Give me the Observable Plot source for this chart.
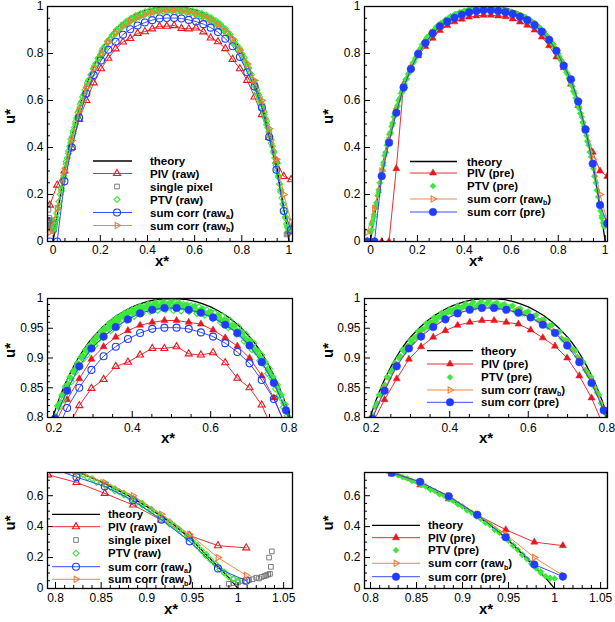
<!DOCTYPE html>
<html><head><meta charset="utf-8">
<script src="https://cdn.jsdelivr.net/npm/d3@7"></script>
<script src="https://cdn.jsdelivr.net/npm/@observablehq/plot@0.6"></script>
<style>
html,body{margin:0;padding:0;background:#fff}
#fig{position:relative;width:615px;height:622px;overflow:hidden;font-family:"Liberation Sans",Arial,Helvetica,sans-serif}
#fig svg{position:absolute}
</style></head><body><div id="fig"></div>
<script>
// ---------------- data ----------------
const xGrid = [-0.014,0.017,0.048,0.079,0.110,0.141,0.172,0.203,0.234,0.265,0.296,0.327,0.358,0.389,0.420,0.451,0.482,0.513,0.544,0.575,0.606,0.637,0.668,0.699,0.730,0.761,0.792,0.823,0.854,0.885,0.916,0.947,0.978,1.009];
const pivRaw  = [0.155,0.24,0.30,0.40,0.52,0.60,0.675,0.735,0.78,0.82,0.849,0.864,0.886,0.893,0.905,0.916,0.916,0.919,0.907,0.905,0.909,0.892,0.866,0.850,0.821,0.775,0.735,0.686,0.615,0.54,0.443,0.342,0.277,0.263];
const pivPre  = [0,0,0,0,0.31,0.67,0.74,0.79,0.83,0.865,0.898,0.919,0.935,0.946,0.955,0.96,0.963,0.963,0.96,0.957,0.947,0.934,0.92,0.90,0.87,0.833,0.785,0.74,0.669,0.579,0.475,0.38,0.30,0.277];
const sumRawA = [0,0,0.256,0.40,0.527,0.63,0.708,0.77,0.816,0.85,0.88,0.903,0.919,0.932,0.942,0.949,0.951,0.951,0.949,0.943,0.936,0.925,0.910,0.891,0.863,0.831,0.785,0.72,0.66,0.57,0.445,0.305,0.13,0.05];
const sumRawB = [0.04,0.14,0.30,0.43,0.555,0.655,0.735,0.80,0.848,0.888,0.918,0.938,0.954,0.966,0.975,0.981,0.984,0.984,0.981,0.977,0.969,0.958,0.944,0.924,0.897,0.862,0.815,0.755,0.685,0.60,0.48,0.35,0.20,0.085];
const sumPre  = [0,0,0.278,0.42,0.548,0.655,0.734,0.798,0.845,0.886,0.916,0.936,0.952,0.965,0.975,0.981,0.984,0.984,0.981,0.976,0.968,0.956,0.942,0.921,0.893,0.858,0.812,0.748,0.69,0.596,0.477,0.331,0.155,0.077];

const theoryX = [0,0.01,0.02,0.03,0.04,0.05,0.06,0.07,0.08,0.09,0.10,0.11,0.12,0.13,0.14,0.15,0.16,0.17,0.18,0.19,0.20,0.21,0.22,0.23,0.24,0.25,0.26,0.27,0.28,0.29,0.30,0.32,0.34,0.36,0.38,0.40,0.42,0.44,0.46,0.48,0.50,0.52,0.54,0.56,0.58,0.60,0.62,0.64,0.66,0.68,0.70,0.71,0.72,0.73,0.74,0.75,0.76,0.77,0.78,0.79,0.80,0.81,0.82,0.83,0.84,0.85,0.86,0.87,0.88,0.89,0.90,0.91,0.92,0.93,0.94,0.95,0.96,0.97,0.98,0.99,1.00];
const theoryU = [0,0.07,0.13,0.19,0.25,0.31,0.36,0.41,0.45,0.49,0.53,0.565,0.60,0.63,0.66,0.69,0.715,0.74,0.765,0.785,0.805,0.825,0.842,0.858,0.872,0.885,0.897,0.908,0.918,0.927,0.935,0.949,0.961,0.971,0.979,0.986,0.991,0.995,0.998,0.9995,1.0,0.9995,0.998,0.995,0.991,0.986,0.979,0.971,0.961,0.949,0.935,0.927,0.918,0.908,0.897,0.885,0.872,0.858,0.842,0.825,0.805,0.785,0.765,0.74,0.715,0.69,0.66,0.63,0.60,0.565,0.53,0.49,0.45,0.41,0.36,0.31,0.25,0.19,0.13,0.07,0];

const ptvX = [0,0.005,0.01,0.015,0.02,0.025,0.03,0.035,0.04,0.045,0.05,0.055,0.06,0.065,0.07,0.075,0.08,0.085,0.09,0.095,0.10,0.105,0.11,0.115,0.12,0.125,0.13,0.135,0.14,0.145,0.15,
 0.16,0.17,0.18,0.19,0.20,0.21,0.22,0.23,0.24,0.25,0.26,0.27,0.28,0.29,0.30,0.31,0.32,0.33,0.34,0.35,0.36,0.37,0.38,0.39,0.40,0.41,0.42,0.43,0.44,0.45,0.46,0.47,0.48,0.49,0.50,
 0.51,0.52,0.53,0.54,0.55,0.56,0.57,0.58,0.59,0.60,0.61,0.62,0.63,0.64,0.65,0.66,0.67,0.68,0.69,0.70,0.71,0.72,0.73,0.74,0.75,0.76,0.77,0.78,0.79,0.80,0.81,0.82,0.83,0.84,
 0.85,0.855,0.86,0.865,0.87,0.875,0.88,0.885,0.89,0.895,0.90,0.905,0.91,0.915,0.92,0.925,0.93,0.935,0.94,0.945,0.95,0.955,0.96,0.965,0.97,0.975,0.98,0.985,0.99,0.995,1.0];
const ptvRawU = [0.05,0.07,0.09,0.12,0.14,0.17,0.20,0.225,0.255,0.28,0.31,0.34,0.355,0.385,0.405,0.435,0.445,0.47,0.485,0.51,0.525,0.55,0.56,0.585,0.595,0.615,0.625,0.645,0.655,0.675,0.685,
 0.71,0.735,0.755,0.78,0.795,0.82,0.832,0.852,0.862,0.878,0.888,0.902,0.908,0.92,0.925,0.936,0.94,0.95,0.952,0.962,0.963,0.97,0.97,0.978,0.976,0.983,0.98,0.987,0.984,0.99,0.985,0.992,0.986,0.99,0.988,
 0.993,0.985,0.99,0.984,0.988,0.982,0.986,0.978,0.981,0.975,0.976,0.969,0.971,0.962,0.963,0.952,0.953,0.94,0.94,0.927,0.925,0.91,0.905,0.888,0.882,0.862,0.855,0.832,0.822,0.798,0.782,0.758,0.738,0.71,
 0.685,0.675,0.655,0.645,0.625,0.615,0.595,0.585,0.56,0.55,0.525,0.512,0.485,0.47,0.445,0.432,0.405,0.385,0.355,0.335,0.305,0.28,0.245,0.22,0.185,0.16,0.125,0.10,0.075,0.06,0.05];
const ptvPreU = [0.04,0.075,0.085,0.115,0.145,0.165,0.195,0.22,0.25,0.285,0.305,0.335,0.365,0.38,0.41,0.43,0.455,0.465,0.49,0.505,0.53,0.545,0.565,0.58,0.60,0.61,0.63,0.64,0.66,0.67,0.69,
 0.712,0.738,0.76,0.778,0.80,0.818,0.838,0.85,0.868,0.876,0.892,0.9,0.914,0.918,0.93,0.934,0.945,0.948,0.958,0.96,0.968,0.969,0.976,0.976,0.982,0.981,0.988,0.985,0.991,0.987,0.994,0.988,0.995,0.989,0.996,
 0.99,0.993,0.988,0.99,0.985,0.988,0.98,0.983,0.975,0.978,0.968,0.972,0.962,0.964,0.952,0.955,0.941,0.944,0.93,0.93,0.915,0.912,0.898,0.893,0.876,0.868,0.85,0.838,0.815,0.80,0.775,0.76,0.733,0.712,
 0.69,0.672,0.66,0.64,0.63,0.612,0.60,0.58,0.565,0.545,0.53,0.508,0.49,0.468,0.45,0.428,0.41,0.382,0.36,0.33,0.31,0.278,0.25,0.218,0.19,0.158,0.13,0.10,0.08,0.065,0.065];

// second PTV sample set (between the first set)
const ptvX2 = [0.005,0.015,0.025,0.035,0.045,0.055,0.065,0.075,0.085,0.095,0.105,0.115,0.125,0.135,0.145,0.155,0.165,0.175,0.185,0.195,
 0.205,0.215,0.225,0.235,0.245,0.255,0.265,0.275,0.285,0.295,0.305,0.315,0.325,0.335,0.345,0.355,0.365,0.375,0.385,0.395,
 0.405,0.415,0.425,0.435,0.445,0.455,0.465,0.475,0.485,0.495,0.505,0.515,0.525,0.535,0.545,0.555,0.565,0.575,0.585,0.595,
 0.605,0.615,0.625,0.635,0.645,0.655,0.665,0.675,0.685,0.695,0.705,0.715,0.725,0.735,0.745,0.755,0.765,0.775,0.785,0.795,
 0.805,0.815,0.825,0.835,0.845,0.855,0.865,0.875,0.885,0.895,0.905,0.915,0.925,0.935,0.945,0.955,0.965,0.975,0.985,0.995];
const ptvRawU2 = [0.06,0.10,0.15,0.215,0.27,0.33,0.375,0.42,0.46,0.50,0.535,0.572,0.60,0.632,0.66,0.69,0.712,0.74,0.758,0.78,
 0.797,0.818,0.83,0.85,0.86,0.876,0.884,0.898,0.905,0.916,0.921,0.932,0.935,0.945,0.946,0.955,0.955,0.964,0.963,0.972,
 0.97,0.978,0.975,0.983,0.978,0.985,0.98,0.987,0.981,0.986,0.98,0.987,0.979,0.985,0.978,0.984,0.975,0.98,0.972,0.975,
 0.966,0.969,0.96,0.961,0.951,0.952,0.94,0.94,0.928,0.926,0.914,0.91,0.896,0.89,0.874,0.866,0.848,0.838,0.817,0.803,
 0.778,0.762,0.736,0.716,0.687,0.664,0.632,0.605,0.57,0.54,0.498,0.462,0.418,0.378,0.325,0.275,0.212,0.158,0.105,0.065];
const ptvPreU2 = [0.05,0.105,0.155,0.21,0.275,0.325,0.378,0.425,0.458,0.502,0.538,0.575,0.605,0.636,0.664,0.692,0.718,0.742,0.764,0.784,
 0.803,0.824,0.838,0.855,0.866,0.881,0.89,0.903,0.91,0.921,0.926,0.936,0.94,0.949,0.952,0.96,0.962,0.969,0.97,0.977,
 0.976,0.982,0.98,0.986,0.983,0.99,0.985,0.991,0.986,0.992,0.986,0.991,0.985,0.989,0.982,0.986,0.979,0.982,0.975,0.977,
 0.97,0.971,0.963,0.964,0.955,0.955,0.945,0.944,0.933,0.93,0.92,0.914,0.902,0.895,0.88,0.87,0.855,0.842,0.824,0.808,
 0.786,0.768,0.744,0.72,0.695,0.668,0.64,0.61,0.577,0.545,0.505,0.466,0.425,0.38,0.33,0.278,0.218,0.162,0.11,0.07];

const spX = [-0.022,-0.02,-0.019,-0.018,-0.016,-0.014,-0.012,-0.01,-0.008,-0.006,-0.004,-0.002,0,0.002,0.004,0.006,0.008,0.99,0.995,1.0,1.004,1.008,1.012,1.016,1.02,1.023,1.026,1.029,1.031,1.033,1.035,1.036,1.034,1.037];
const spU = [0.155,0.135,0.09,0.08,0.1,0.065,0.085,0.07,0.055,0.09,0.06,0.075,0.045,0.06,0.05,0.07,0.08,0.03,0.035,0.04,0.05,0.045,0.055,0.06,0.07,0.065,0.075,0.08,0.085,0.09,0.095,0.14,0.2,0.24];

// tick labels
const xTicksFull = [0,0.2,0.4,0.6,0.8,1];
const xMinorFull = [0.05,0.1,0.15,0.25,0.3,0.35,0.45,0.5,0.55,0.65,0.7,0.75,0.85,0.9,0.95];
const yTicksFull = [0,0.2,0.4,0.6,0.8,1];
const yMinorFull = [0.05,0.1,0.15,0.25,0.3,0.35,0.45,0.5,0.55,0.65,0.7,0.75,0.85,0.9,0.95];
const xTicksMid = [0.2,0.4,0.6,0.8];
const xMinorMid = [0.25,0.3,0.35,0.45,0.5,0.55,0.65,0.7,0.75];
const yTicksMid = [0.8,0.85,0.9,0.95,1];
const yMinorMid = [0.81,0.82,0.83,0.84,0.86,0.87,0.88,0.89,0.91,0.92,0.93,0.94,0.96,0.97,0.98,0.99];
const xTicksZoom = [0.8,0.85,0.9,0.95,1,1.05];
const xMinorZoom = [0.81,0.82,0.83,0.84,0.86,0.87,0.88,0.89,0.91,0.92,0.93,0.94,0.96,0.97,0.98,0.99,1.01,1.02,1.03,1.04];
const yTicksZoom = [0,0.2,0.4,0.6];
const yMinorZoom = [0.05,0.1,0.15,0.25,0.3,0.35,0.45,0.5,0.55,0.65,0.7];

// ---------------- styles ----------------
const RED = "#e8161e", BLUE = "#1f3cff", ORANGE = "#f37a35", GREEN = "#3ce83a", GRAY = "#6e6e6e";
const FONT = '"Liberation Sans", Arial, Helvetica, sans-serif';

const tbl = (xs, us) => xs.map((x, i) => ({x, u: us[i]}));
const D = {
  theory: tbl(theoryX, theoryU), pivRaw: tbl(xGrid, pivRaw), pivPre: tbl(xGrid, pivPre),
  rawA: tbl(xGrid, sumRawA), rawB: tbl(xGrid, sumRawB), pre: tbl(xGrid, sumPre),
  ptvRaw: tbl(ptvX, ptvRawU).concat(tbl(ptvX2, ptvRawU2)),
  ptvPre: tbl(ptvX, ptvPreU).concat(tbl(ptvX2, ptvPreU2)),
  single: tbl(spX, spU)
};

const rr = s => Math.sqrt(s / Math.PI);
const upTri = {draw(c, s){const R = rr(s)*1.2; c.moveTo(0,-R); c.lineTo(R*0.866,R/2); c.lineTo(-R*0.866,R/2); c.closePath();}};
const rightTri = {draw(c, s){const R = rr(s)*1.2; c.moveTo(R,0); c.lineTo(-R/2,-R*0.866); c.lineTo(-R/2,R*0.866); c.closePath();}};
const diamond = {draw(c, s){const h = rr(s)*1.25; c.moveTo(0,-h); c.lineTo(h,0); c.lineTo(0,h); c.lineTo(-h,0); c.closePath();}};
const square = {draw(c, s){const a = rr(s)*0.9; c.rect(-a,-a,2*a,2*a);}};
const circle = {draw(c, s){const r = rr(s); c.moveTo(r,0); c.arc(0,0,r,0,2*Math.PI);}};

const SER = {
  theory: {line: "#000", lw: 1.3, label: ["theory"]},
  pivRaw: {line: RED, lw: 0.9, sym: upTri, r: 3.4, stroke: RED, fill: "none", sw: 1.1, label: ["PIV (raw)"]},
  pivPre: {line: RED, lw: 0.9, sym: upTri, r: 3.4, stroke: RED, fill: RED, sw: 0.5, label: ["PIV (pre)"]},
  single: {sym: square, r: 2.6, stroke: GRAY, fill: "none", sw: 0.9, label: ["single pixel"]},
  ptvRaw: {sym: diamond, r: 2.4, stroke: GREEN, fill: "none", sw: 1.1, label: ["PTV (raw)"]},
  ptvPre: {sym: diamond, r: 2.4, stroke: GREEN, fill: GREEN, sw: 0.6, label: ["PTV (pre)"]},
  rawA: {line: BLUE, lw: 0.9, sym: circle, r: 3.5, stroke: BLUE, fill: "none", sw: 1.1, label: ["sum corr (raw", "a", ")"]},
  rawB: {line: ORANGE, lw: 0.9, sym: rightTri, r: 3.0, stroke: ORANGE, fill: "none", sw: 1.1, label: ["sum corr (raw", "b", ")"]},
  pre: {line: BLUE, lw: 0.9, sym: circle, r: 3.8, stroke: BLUE, fill: BLUE, sw: 0.5, label: ["sum corr (pre)"]}
};

function seriesMarks(key) {
  const s = SER[key], m = [];
  if (s.line) m.push(Plot.line(D[key], {x: "x", y: "u", stroke: s.line, strokeWidth: s.lw, clip: true}));
  if (s.sym) m.push(Plot.dot(D[key], {x: "x", y: "u", symbol: s.sym, r: s.r, stroke: s.stroke, fill: s.fill, strokeWidth: s.sw, clip: true}));
  return m;
}

const panels = [
  {left: 0, top: 0, w: 305, h: 280, mt: 6, mb: 39, ml: 47, mr: 13, xd: [-0.024, 1.015], yd: [0, 1],
   xMaj: xTicksFull, xMin: xMinorFull, yMaj: yTicksFull, yMin: yMinorFull, xPad: 4, xtDx: -8, xtDy: 24, utDx: -37,
   series: ["theory", "pivRaw", "single", "ptvRaw", "rawA", "rawB"],
   legend: {x1: 93, x2: 132, xm: 117, xt: 150, ys: [161, 173.5, 186.5, 199.5, 212.5, 225.5], keys: ["theory", "pivRaw", "single", "ptvRaw", "rawA", "rawB"]}},
  {left: 305, top: 0, w: 310, h: 280, mt: 6, mb: 39, ml: 59, mr: 8, xd: [-0.0255, 1.0098], yd: [0, 1],
   xMaj: xTicksFull, xMin: xMinorFull, yMaj: yTicksFull, yMin: yMinorFull, xPad: 4, xtDx: -10, xtDy: 24, utDx: -36,
   series: ["theory", "pivPre", "ptvPre", "rawB", "pre"],
   legend: {x1: 410, x2: 457, xm: 433, xt: 467, ys: [161.5, 173, 186, 199, 212], keys: ["theory", "pivPre", "ptvPre", "rawB", "pre"]}},
  {left: 0, top: 280, w: 305, h: 170, mt: 18, mb: 33, ml: 47, mr: 13, xd: [0.184, 0.8085], yd: [0.8, 1],
   xMaj: xTicksMid, xMin: xMinorMid, yMaj: yTicksMid, yMin: yMinorMid, xPad: 6, xtDx: -2, xtDy: 25, utDx: -37,
   series: ["theory", "pivRaw", "pivPre", "ptvRaw", "ptvPre", "rawA", "pre"], legend: null},
  {left: 305, top: 280, w: 310, h: 170, mt: 18, mb: 33, ml: 59, mr: 8, xd: [0.183, 0.8017], yd: [0.8, 1],
   xMaj: xTicksMid, xMin: xMinorMid, yMaj: yTicksMid, yMin: yMinorMid, xPad: 6, xtDx: 0, xtDy: 25, utDx: -36,
   series: ["theory", "pivPre", "ptvPre", "rawB", "pre"],
   legend: {x1: 427, x2: 473, xm: 450, xt: 481, ys: [350.7, 364, 377.3, 390, 402.3], keys: ["theory", "pivPre", "ptvPre", "rawB", "pre"]}},
  {left: 0, top: 450, w: 305, h: 172, mt: 22, mb: 34, ml: 47, mr: 13, xd: [0.7912, 1.0597], yd: [0, 0.75],
   xMaj: xTicksZoom, xMin: xMinorZoom, yMaj: yTicksZoom, yMin: yMinorZoom, xPad: 5, xtDx: 1, xtDy: 25, utDx: -37,
   series: ["theory", "pivRaw", "single", "ptvRaw", "rawA", "rawB"],
   legend: {x1: 52, x2: 100, xm: 76, xt: 108, ys: [514.3, 526.7, 540, 553.3, 566.7, 579.3], keys: ["theory", "pivRaw", "single", "ptvRaw", "rawA", "rawB"]}},
  {left: 305, top: 450, w: 310, h: 172, mt: 22, mb: 34, ml: 59, mr: 8, xd: [0.7935, 1.0575], yd: [0, 0.75],
   xMaj: xTicksZoom, xMin: xMinorZoom, yMaj: yTicksZoom, yMin: yMinorZoom, xPad: 5, xtDx: 0, xtDy: 25, utDx: -36,
   series: ["theory", "pivPre", "ptvPre", "rawB", "pre"],
   legend: {x1: 372, x2: 420, xm: 396, xt: 428, ys: [525.3, 537.7, 550.3, 563.3, 576.7], keys: ["theory", "pivPre", "ptvPre", "rawB", "pre"]}}
];

const fig = document.getElementById("fig");
for (const p of panels) {
  const H = p.h - p.mt - p.mb, W = p.w - p.ml - p.mr;
  const marks = [];
  for (const k of p.series) marks.push(...seriesMarks(k));
  marks.push(
    Plot.tickX(p.xMaj, {x: d => d, insetTop: H - 6, stroke: "#000", strokeWidth: 1}),
    Plot.tickX(p.xMin, {x: d => d, insetTop: H - 3, stroke: "#000", strokeWidth: 1}),
    Plot.tickY(p.yMaj, {y: d => d, insetRight: W - 6, stroke: "#000", strokeWidth: 1}),
    Plot.tickY(p.yMin, {y: d => d, insetRight: W - 3, stroke: "#000", strokeWidth: 1}),
    Plot.axisX(p.xMaj, {tickSize: 0, tickPadding: p.xPad, label: null, tickFormat: d => String(d), fontSize: 12, fill: "#000"}),
    Plot.axisY(p.yMaj, {tickSize: 0, tickPadding: 4, label: null, tickFormat: d => String(d), fontSize: 12, fill: "#000"}),
    Plot.frame({stroke: "#000", strokeWidth: 1.3}),
    Plot.text(["u*"], {text: d => d, frameAnchor: "left", dx: p.utDx, rotate: -90, fontWeight: "bold", fontSize: 15, fill: "#000"}),
    Plot.text(["x*"], {text: d => d, frameAnchor: "bottom", dx: p.xtDx, dy: p.xtDy, fontWeight: "bold", fontSize: 15, fill: "#000"})
  );
  const svg = Plot.plot({
    width: p.w, height: p.h, marginTop: p.mt, marginBottom: p.mb, marginLeft: p.ml, marginRight: p.mr,
    x: {domain: p.xd, label: null}, y: {domain: p.yd, label: null},
    style: {fontFamily: FONT, fontSize: "12px", background: "transparent", color: "#000"},
    marks
  });
  svg.style.left = p.left + "px";
  svg.style.top = p.top + "px";
  fig.appendChild(svg);
}

// legends (overlay)
const ov = d3.select(fig).append("svg").attr("width", 615).attr("height", 622)
  .style("left", "0px").style("top", "0px").style("font-family", FONT);
for (const p of panels) {
  const L = p.legend; if (!L) continue;
  L.keys.forEach((k, i) => {
    const s = SER[k], y = L.ys[i];
    if (s.line) ov.append("line").attr("x1", L.x1).attr("x2", L.x2).attr("y1", y).attr("y2", y)
      .attr("stroke", s.line).attr("stroke-width", s.lw);
    if (s.sym) ov.append("path").attr("d", d3.symbol(s.sym, Math.PI * s.r * s.r)())
      .attr("transform", `translate(${L.xm},${y})`).attr("stroke", s.stroke).attr("fill", s.fill).attr("stroke-width", s.sw);
    const t = ov.append("text").attr("x", L.xt).attr("y", y).attr("dy", "0.35em")
      .attr("font-size", 11.5).attr("font-weight", "bold").attr("fill", "#000");
    t.append("tspan").text(s.label[0]);
    if (s.label.length > 1) {
      t.append("tspan").attr("font-size", 7).attr("dy", 2.2).text(s.label[1]);
      t.append("tspan").attr("dy", -2.2).text(s.label[2]);
    }
  });
}
</script></body></html>
